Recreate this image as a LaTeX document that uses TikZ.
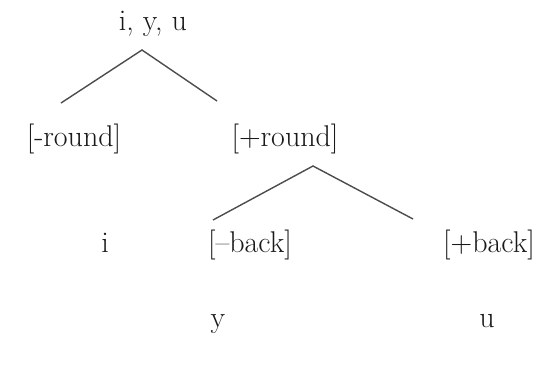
\documentclass[tikz,border=0pt]{standalone}
\tikzset{
  feat/.style={anchor=base, inner sep=0pt, font=\fontsize{15}{18}\selectfont, text=black!90},
  branch/.style={line width=0.7pt, draw=black!70}
}
\begin{document}
\begin{tikzpicture}[x=0.5pt, y=-0.5pt]
  \useasboundingbox (0,0) rectangle (546,370);
  % labels
  \node[feat] (all) at (153,30) {i, y, u};
  \node[feat] (minround) at (74,146) {[-round]};
  \node[feat] (plusround) at (285,146) {[+round]};
  \node[feat] (i) at (105,252) {i};
  \node[feat] (minback) at (250,252) {[--back]};
  \node[feat] (plusback) at (489,252) {[+back]};
  \node[feat] (y) at (218,327) {y};
  \node[feat] (u) at (487,327) {u};

  % branch points
  \coordinate (fork1) at (142,50);
  \coordinate (leg1l) at (61,103);
  \coordinate (leg1r) at (217,101);
  \coordinate (fork2) at (313,166);
  \coordinate (leg2l) at (213,220);
  \coordinate (leg2r) at (413,219);

  \draw[branch] (leg1l) -- (fork1) -- (leg1r);
  \draw[branch] (leg2l) -- (fork2) -- (leg2r);
\end{tikzpicture}
\end{document}
